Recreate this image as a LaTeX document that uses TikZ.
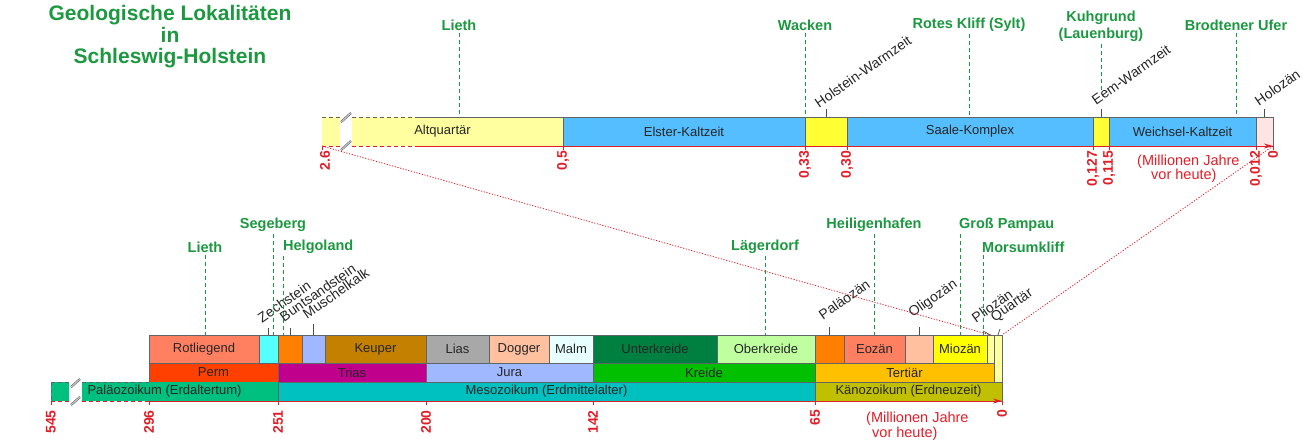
\documentclass[tikz,border=0pt]{standalone}
\usepackage{fontspec}
\setmainfont{Liberation Sans}
\usetikzlibrary{arrows.meta}
\definecolor{sitegreen}{RGB}{28,152,64}
\definecolor{axisred}{RGB}{225,30,40}
\definecolor{segline}{RGB}{95,100,105}
\definecolor{cPale}{RGB}{255,255,160}
\definecolor{cBlue}{RGB}{85,190,255}
\definecolor{cWarm}{RGB}{255,255,51}
\definecolor{cHolo}{RGB}{255,228,228}
\definecolor{cSalmon}{RGB}{255,128,96}
\definecolor{cCyan}{RGB}{85,255,255}
\definecolor{cOrange}{RGB}{255,128,0}
\definecolor{cLav}{RGB}{160,184,255}
\definecolor{cKeuper}{RGB}{196,128,0}
\definecolor{cGray}{RGB}{168,168,168}
\definecolor{cPeach}{RGB}{255,192,160}
\definecolor{cMalm}{RGB}{232,255,255}
\definecolor{cDkGreen}{RGB}{0,128,64}
\definecolor{cLtGreen}{RGB}{192,255,160}
\definecolor{cYellow}{RGB}{255,255,0}
\definecolor{cPerm}{RGB}{255,64,0}
\definecolor{cTrias}{RGB}{192,0,140}
\definecolor{cKreide}{RGB}{0,192,0}
\definecolor{cAmber}{RGB}{255,192,0}
\definecolor{cPalaeo}{RGB}{0,192,128}
\definecolor{cMeso}{RGB}{0,192,192}
\definecolor{cKaeno}{RGB}{192,192,0}
\begin{document}
\begin{tikzpicture}[x=1pt,y=-1pt,
 seg/.style={draw=segline, line width=0.6pt, inner sep=0pt, outer sep=0pt, anchor=north west, text=black!85, font=\fontsize{13}{15}\selectfont},
 site/.style={text=sitegreen, font=\bfseries\fontsize{14.5}{17}\selectfont, inner sep=2pt, align=center},
 siteline/.style={draw=sitegreen, line width=1pt, dash pattern=on 4pt off 3pt},
 tickval/.style={text=axisred, font=\bfseries\fontsize{14}{16}\selectfont, rotate=90, anchor=east, inner sep=0pt},
 axisline/.style={draw=axisred, line width=1pt},
 axisdash/.style={axisline, dash pattern=on 4pt off 3pt},
 edgedash/.style={draw=segline, line width=0.6pt, dash pattern=on 4pt off 3pt},
 rotlbl/.style={rotate=35, anchor=south west, inner sep=1pt, text=black!85, font=\fontsize{14}{16}\selectfont},
 lbltick/.style={draw=black!70, line width=0.7pt},
 dotline/.style={draw=axisred, line width=0.8pt, dash pattern=on 1.2pt off 1.6pt},
 breakmark/.style={draw=black!65, double=gray!45, double distance=1.2pt, line width=0.5pt},
 unitnote/.style={text=axisred, font=\fontsize{14.5}{14.5}\selectfont, align=left, anchor=north west, inner sep=0pt},
 tickmark/.style={draw=axisred, line width=0.6pt},
 ]
\useasboundingbox (0,0) rectangle (1305,440);

% ---------- title ----------
\node[text=sitegreen, font=\bfseries\fontsize{21}{21.5}\selectfont, align=center] (title) at (170,37)
  {Geologische Lokalitäten\\in\\Schleswig-Holstein};

% ---------- top bar (Quartär) ----------
\node[seg, draw=none, fill=cPale, minimum width=241pt, minimum height=29pt] (alt) at (322,117) {Altquartär};
\node[seg, fill=cBlue, minimum width=242pt, minimum height=29pt] (elster) at (563,117) {Elster-Kaltzeit};
\node[seg, fill=cWarm, minimum width=42pt, minimum height=29pt] (holstein) at (805,117) {};
\node[seg, fill=cBlue, minimum width=246pt, minimum height=29pt] (saale) at (847,117) {Saale-Komplex};
\node[seg, fill=cWarm, minimum width=16pt, minimum height=29pt] (eem) at (1093,117) {};
\node[seg, fill=cBlue, minimum width=147pt, minimum height=29pt] (weichsel) at (1109,117) {Weichsel-Kaltzeit};
\node[seg, fill=cHolo, minimum width=17pt, minimum height=29pt] (holozaen) at (1256,117) {};
% break gap
\fill[white] (340,115) rectangle (352,148);
\draw[edgedash] (322,117) -- (340,117);
\draw[edgedash] (352,117) -- (417,117);
\draw[segline, line width=0.6pt] (417,117) -- (elster.north west);
\coordinate (tA) at (322,146);
\coordinate (tB) at (340,146);
\coordinate (tC) at (352,146);
\coordinate (tD) at (417,146);
\draw[axisdash] (tA) -- (tB);
\draw[axisdash] (tC) -- (tD);
\draw[axisline, -{Stealth[length=9pt,width=5pt]}] (tD) -- (holozaen.south east);
\draw[breakmark] (341,122) -- (351,113);
\draw[breakmark] (341,150) -- (351,141);
\foreach \xx in {322,563,805,847,1093,1109,1256,1273} \draw[tickmark] (\xx,146) -- (\xx,150);

% top tick values
\node[tickval] (v26) at (325,151) {2.6};
\node[tickval] (v05) at (563,151) {0,5};
\node[tickval] (v033) at (805,151) {0,33};
\node[tickval] (v030) at (847,151) {0,30};
\node[tickval] (v0127) at (1093,151) {0,127};
\node[tickval] (v0115) at (1109,151) {0,115};
\node[tickval] (v0012) at (1256,151) {0,012};
\node[tickval] (v0t) at (1273,151) {0};
\node[unitnote] (unitT) at (1137,154.5) {(Millionen Jahre\\\hspace*{14pt}vor heute)};

% top rotated labels
\draw[lbltick] (holstein.north) -- ++(0,-8) coordinate (hwt);
\node[rotlbl] (hwlbl) at (819,110) {Holstein-Warmzeit};
\draw[lbltick] (eem.north) -- ++(0,-8) coordinate (ewt);
\node[rotlbl] (ewlbl) at (1096,107) {Eem-Warmzeit};
\draw[lbltick] (holozaen.north) -- ++(0,-8) coordinate (hot);
\node[rotlbl] (holbl) at (1259,108) {Holozän};

% top sites
\node[site] (liethA) at (459,25) {Lieth};
\draw[siteline] (liethA.south) -- (liethA.south |- alt.north);
\node[site] (wacken) at (805,25) {Wacken};
\draw[siteline] (wacken.south) -- (holstein.north west);
\node[site] (rotes) at (969,25) {Rotes Kliff (Sylt)};
\draw[siteline] (rotes.south) -- (rotes.south |- saale.north);
\node[site] (kuh) at (1101,26.5) {Kuhgrund\\(Lauenburg)};
\coordinate (kuhend) at (1101,92);
\draw[siteline] (kuh.south) -- (kuhend);
\node[site] (brodt) at (1236,25) {Brodtener Ufer};
\draw[siteline] (brodt.south) -- (brodt.south |- weichsel.north);

% ---------- bottom bar ----------
% row 1
\node[seg, fill=cSalmon, minimum width=110pt, minimum height=28pt] (rotl) at (149,335) {Rotliegend};
\node[seg, fill=cCyan, minimum width=19pt, minimum height=28pt] (zech) at (259,335) {};
\node[seg, fill=cOrange, minimum width=24pt, minimum height=28pt] (bunt) at (278,335) {};
\node[seg, fill=cLav, minimum width=23pt, minimum height=28pt] (musch) at (302,335) {};
\node[seg, fill=cKeuper, minimum width=101pt, minimum height=28pt] (keuper) at (325,335) {Keuper};
\node[seg, fill=cGray, minimum width=63pt, minimum height=28pt] (lias) at (426,335) {Lias};
\node[seg, fill=cPeach, minimum width=60pt, minimum height=28pt] (dogger) at (489,335) {Dogger};
\node[seg, fill=cMalm, minimum width=44pt, minimum height=28pt] (malm) at (549,335) {Malm};
\node[seg, fill=cDkGreen, minimum width=124pt, minimum height=28pt] (ukreide) at (593,335) {Unterkreide};
\node[seg, fill=cLtGreen, minimum width=98pt, minimum height=28pt] (okreide) at (717,335) {Oberkreide};
\node[seg, fill=cOrange, minimum width=29pt, minimum height=28pt] (palaeoz) at (815,335) {};
\node[seg, fill=cSalmon, minimum width=61pt, minimum height=28pt] (eoz) at (844,335) {Eozän};
\node[seg, fill=cPeach, minimum width=28pt, minimum height=28pt] (olig) at (905,335) {};
\node[seg, fill=cYellow, minimum width=54pt, minimum height=28pt] (mioz) at (933,335) {Miozän};
\node[seg, fill=cPale, minimum width=7pt, minimum height=28pt] (plioz) at (987,335) {};
\node[seg, fill=cPale, minimum width=8pt, minimum height=47pt] (quart) at (994,335) {};
% row 2
\node[seg, fill=cPerm, minimum width=129pt, minimum height=19pt] (perm) at (149,363) {Perm};
\node[seg, fill=cTrias, minimum width=148pt, minimum height=19pt] (trias) at (278,363) {Trias};
\node[seg, fill=cLav, minimum width=167pt, minimum height=19pt] (jura) at (426,363) {Jura};
\node[seg, fill=cKreide, minimum width=222pt, minimum height=19pt] (kreide) at (593,363) {Kreide};
\node[seg, fill=cAmber, minimum width=179pt, minimum height=19pt] (tert) at (815,363) {Tertiär};
% row 3
\node[seg, draw=none, fill=cPalaeo, minimum width=227pt, minimum height=19pt] (palaeo) at (51,382) {Paläozoikum (Erdaltertum)};
\node[seg, fill=cMeso, minimum width=537pt, minimum height=19pt] (meso) at (278,382) {Mesozoikum (Erdmittelalter)};
\node[seg, fill=cKaeno, minimum width=187pt, minimum height=19pt] (kaeno) at (815,382) {Känozoikum (Erdneuzeit)};
% break gap
\fill[white] (69,380) rectangle (82,404);
\draw[edgedash] (51,382) -- (69,382);
\draw[edgedash] (51,382) -- (51,401);
\draw[edgedash] (82,382) -- (149,382);
\coordinate (bA) at (51,401);
\coordinate (bB) at (69,401);
\coordinate (bC) at (82,401);
\coordinate (bD) at (149,401);
\draw[axisdash] (bA) -- (bB);
\draw[axisdash] (bC) -- (bD);
\draw[axisline, -{Stealth[length=9pt,width=5pt]}] (bD) -- (kaeno.south east);
\draw[breakmark] (71,387) -- (80,379);
\draw[breakmark] (71,405) -- (80,397);
\foreach \xx in {51,149,278,426,593,815,1002} \draw[tickmark] (\xx,401) -- (\xx,405);

% bottom tick values
\node[tickval] (v545) at (51,410) {545};
\node[tickval] (v296) at (149,410) {296};
\node[tickval] (v251) at (278,410) {251};
\node[tickval] (v200) at (426,410) {200};
\node[tickval] (v142) at (593,410) {142};
\node[tickval] (v65) at (815,410) {65};
\node[tickval] (v0b) at (1002,410) {0};
\node[unitnote] (unitB) at (866,412) {(Millionen Jahre\\\hspace*{6pt}vor heute)};

% bottom rotated labels
\draw[lbltick] (zech.north) -- ++(0,-7);
\node[rotlbl] (zechlbl) at (262,325) {Zechstein};
\draw[lbltick] (bunt.north) -- ++(0,-7);
\node[rotlbl] (buntlbl) at (284,324) {Buntsandstein};
\draw[lbltick] (musch.north) -- ++(0,-11);
\node[rotlbl] (muschlbl) at (307,321) {Muschelkalk};
\draw[lbltick] (palaeoz.north) -- ++(0,-8);
\node[rotlbl] (pzlbl) at (823,322) {Paläozän};
\draw[lbltick] (olig.north) -- ++(0,-8);
\node[rotlbl] (oglbl) at (914,322) {Oligozän};
\coordinate (plk) at (983,331);
\draw[lbltick] (plk) -- (plioz.north);
\node[rotlbl] (pllbl) at (976,325) {Pliozän};
\coordinate (qk) at (1000,329);
\draw[lbltick] (quart.north) -- (qk);
\node[rotlbl] (qlbl) at (996,326) {Quartär};

% dotted zoom lines
\draw[dotline] (alt.south west) -- (plioz.north);
\draw[dotline] (holozaen.south east) -- (quart.north east);

% bottom sites
\node[site] (liethB) at (205,247) {Lieth};
\draw[siteline] (liethB.south) -- (liethB.south |- rotl.north);
\node[site] (sege) at (273,225) {Segeberg};
\draw[siteline] (sege.south) -- (sege.south |- zech.north);
\node[site, anchor=west] (helgo) at (281,247) {Helgoland};
\coordinate (hx) at (283,0);
\draw[siteline] (hx |- helgo.south) -- (hx |- bunt.north);
\node[site] (laeger) at (765,247) {Lägerdorf};
\draw[siteline] (laeger.south) -- (laeger.south |- okreide.north);
\node[site] (heilig) at (874,225) {Heiligenhafen};
\draw[siteline] (heilig.south) -- (heilig.south |- eoz.north);
\node[site, anchor=west] (gross) at (957,225) {Groß Pampau};
\coordinate (gx) at (960,0);
\draw[siteline] (gx |- gross.south) -- (gx |- mioz.north);
\node[site, anchor=west] (morsum) at (980,247) {Morsumkliff};
\coordinate (mx) at (983,0);
\draw[siteline] (mx |- morsum.south) -- (mx |- mioz.north);
\end{tikzpicture}
\end{document}
